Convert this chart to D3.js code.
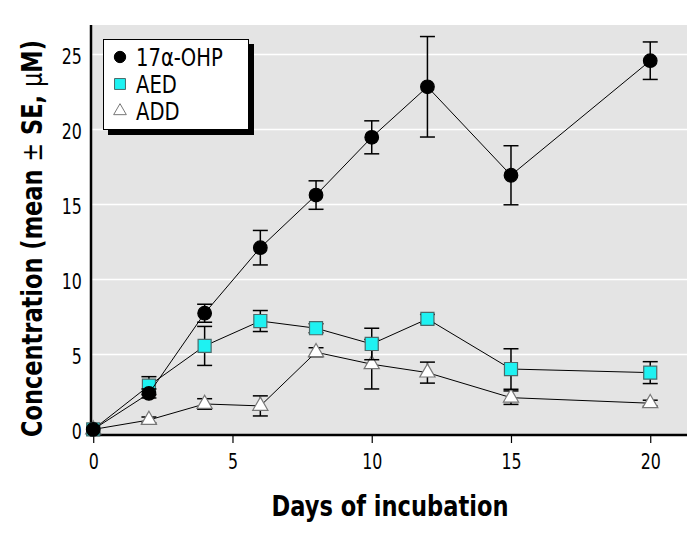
<!DOCTYPE html>
<html>
<head>
<meta charset="utf-8">
<script src="https://cdn.jsdelivr.net/npm/d3@7/dist/d3.min.js"></script>
<style>
  body { margin: 0; background: #fff; }
  svg text { font-family: "Liberation Sans Narrow", "DejaVu Sans", sans-serif; font-stretch: condensed; }
</style>
</head>
<body>
<div id="chart"></div>
<script>
// data
var days = [0, 2, 4, 6, 8, 10, 12, 15, 20];
var ohpMean = [0, 2.4, 7.75, 12.12, 15.63, 19.48, 22.85, 16.95, 24.59];
var ohpSE   = [0, 0.3, 0.6, 1.15, 0.95, 1.1, 3.35, 1.97, 1.25];
var aedMean = [0, 2.92, 5.57, 7.23, 6.75, 5.7, 7.37, 4.03, 3.79];
var aedSE   = [0, 0.6, 1.3, 0.7, 0.3, 1.05, 0.3, 1.35, 0.73];
var addMean = [0, 0.63, 1.7, 1.57, 5.15, 4.35, 3.79, 2.12, 1.75];
var addSE   = [0, 0.2, 0.35, 0.67, 0.3, 1.65, 0.7, 0.45, 0.2];
var seriesNames = ['17α-OHP', 'AED', 'ADD'];
var xTicks = [0, 5, 10, 15, 20];
var yTicks = [0, 5, 10, 15, 20, 25];

var width = 699, height = 533;
var plotLeft = 91, plotRight = 687, plotTop = 25, plotBottom = 435;

var svg = d3.select('#chart').append('svg')
  .attr('width', width)
  .attr('height', height);

var x = d3.scaleLinear().domain([-0.08, 21.32]).range([plotLeft, plotRight]);
var y = d3.scaleLinear().domain([-0.37, 26.97]).range([plotBottom, plotTop]);

// plot background + grid
svg.append('rect')
  .attr('x', plotLeft).attr('y', plotTop)
  .attr('width', plotRight - plotLeft).attr('height', plotBottom - plotTop)
  .style('fill', '#e4e4e4');

svg.append('g').selectAll('line')
  .data(yTicks.filter(function (d) { return d > 0; }))
  .enter().append('line')
  .attr('x1', plotLeft).attr('x2', plotRight)
  .attr('y1', function (d) { return y(d); })
  .attr('y2', function (d) { return y(d); })
  .style('stroke', '#fff').style('stroke-width', 1.5);

// axes (no condensed font here, so squeeze the labels a bit)
var xAxis = svg.append('g')
  .attr('transform', 'translate(0,' + plotBottom + ')')
  .call(d3.axisBottom(x).tickValues(xTicks).tickSize(8).tickPadding(10).tickSizeOuter(0));
xAxis.select('.domain').remove();
xAxis.selectAll('line').style('stroke', '#000').style('stroke-width', 1.2);
xAxis.selectAll('text')
  .attr('transform', 'scale(0.8,1)')
  .style('font-size', '22px').style('fill', '#000');

var yAxis = svg.append('g')
  .attr('transform', 'translate(' + (plotLeft - 2) + ',0)')
  .call(d3.axisLeft(y).tickValues(yTicks).tickSize(0).tickPadding(9));
yAxis.select('.domain').remove();
yAxis.selectAll('text')
  .attr('transform', 'scale(0.8,1)')
  .attr('dy', '0.42em')
  .style('font-size', '22px').style('fill', '#000');

svg.append('line')
  .attr('x1', plotLeft).attr('x2', plotLeft)
  .attr('y1', plotTop).attr('y2', plotBottom + 1.5)
  .style('stroke', '#000').style('stroke-width', 2.5);
svg.append('line')
  .attr('x1', plotLeft - 1).attr('x2', plotRight)
  .attr('y1', plotBottom).attr('y2', plotBottom)
  .style('stroke', '#000').style('stroke-width', 2.5);

// axis titles
svg.append('text')
  .attr('x', 390).attr('y', 516)
  .attr('text-anchor', 'middle')
  .attr('textLength', 237).attr('lengthAdjust', 'spacingAndGlyphs')
  .style('font-size', '29px').style('font-weight', 'bold')
  .text('Days of incubation');

var yt = svg.append('text')
  .attr('transform', 'translate(42,238.5) rotate(-90)')
  .attr('text-anchor', 'middle')
  .attr('textLength', 397).attr('lengthAdjust', 'spacingAndGlyphs')
  .style('font-size', '29px').style('font-weight', 'bold');
yt.append('tspan').text('Concentration (mean ');
yt.append('tspan').style('font-weight', 'normal').text('±');
yt.append('tspan').text(' SE, ');
yt.append('tspan').style('font-weight', 'normal').text('μ');
yt.append('tspan').text('M)');

// series
function makeSeries(means, ses) {
  return days.map(function (d, i) { return { day: d, mean: means[i], se: ses[i] }; });
}
var series = [
  { name: seriesNames[2], data: makeSeries(addMean, addSE), shape: d3.symbolTriangle, size: 100, fill: '#fff', stroke: '#777' },
  { name: seriesNames[1], data: makeSeries(aedMean, aedSE), shape: d3.symbolSquare, size: 170, fill: '#1ef2f2', stroke: '#4a6a6a' },
  { name: seriesNames[0], data: makeSeries(ohpMean, ohpSE), shape: d3.symbolCircle, size: 145, fill: '#000', stroke: '#000' }
];

var line = d3.line()
  .x(function (d) { return x(d.day); })
  .y(function (d) { return y(d.mean); });

series.forEach(function (s) {
  var g = svg.append('g');
  g.append('path')
    .datum(s.data)
    .attr('d', line)
    .style('fill', 'none').style('stroke', '#000').style('stroke-width', 1);

  var bars = g.selectAll('.err')
    .data(s.data.filter(function (d) { return d.se > 0; }))
    .enter().append('g');
  bars.append('line')
    .attr('x1', function (d) { return x(d.day); })
    .attr('x2', function (d) { return x(d.day); })
    .attr('y1', function (d) { return y(d.mean - d.se); })
    .attr('y2', function (d) { return y(d.mean + d.se); })
    .style('stroke', '#000').style('stroke-width', 1.5);
  [-1, 1].forEach(function (sign) {
    bars.append('line')
      .attr('x1', function (d) { return x(d.day) - 7.5; })
      .attr('x2', function (d) { return x(d.day) + 7.5; })
      .attr('y1', function (d) { return y(d.mean + sign * d.se); })
      .attr('y2', function (d) { return y(d.mean + sign * d.se); })
      .style('stroke', '#000').style('stroke-width', 1.5);
  });

  g.selectAll('.pt')
    .data(s.data)
    .enter().append('path')
    .attr('transform', function (d) { return 'translate(' + x(d.day) + ',' + y(d.mean) + ')'; })
    .attr('d', d3.symbol().type(s.shape).size(s.size))
    .style('fill', s.fill).style('stroke', s.stroke).style('stroke-width', 1.2);
});

// legend
var lg = svg.append('g');
lg.append('rect')
  .attr('x', 108).attr('y', 44).attr('width', 146).attr('height', 91)
  .style('fill', '#000');
lg.append('rect')
  .attr('x', 103.5).attr('y', 39.5).attr('width', 145).attr('height', 90)
  .style('fill', '#fff').style('stroke', '#000').style('stroke-width', 1);

var legendItems = [series[2], series[1], series[0]];
legendItems.forEach(function (s, i) {
  var cy = 57 + i * 27;
  lg.append('path')
    .attr('transform', 'translate(120,' + cy + ')')
    .attr('d', d3.symbol().type(s.shape).size(s.size * 0.7))
    .style('fill', s.fill).style('stroke', s.stroke).style('stroke-width', 1);
  lg.append('text')
    .attr('transform', 'translate(136,' + (cy + 9) + ') scale(0.87,1)')
    .style('font-size', '25px')
    .text(s.name);
});
</script>
</body>
</html>
